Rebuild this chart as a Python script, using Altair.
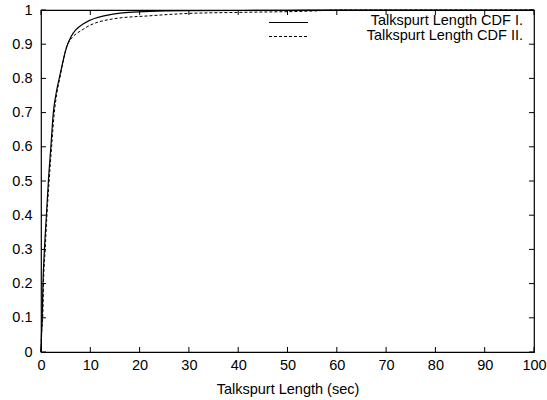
import altair as alt
import pandas as pd

# CDF of talkspurt length, two measurement sets
len_cdf1 = [0, 0.1, 0.25, 0.4, 0.7, 1.1, 1.5, 2.0, 2.5, 3.05, 3.7, 5.4, 8.6, 14.6, 22, 30, 50, 60, 100]
cdf1     = [0, 0.05, 0.1, 0.2, 0.3, 0.4, 0.5, 0.6, 0.7, 0.755, 0.8, 0.9, 0.96, 0.988, 0.996, 0.998, 0.999, 1.0, 1.0]

len_cdf2 = [0, 0.1, 0.35, 0.5, 0.85, 1.2, 1.65, 2.15, 2.7, 3.2, 3.8, 5.4, 8.6, 14.6, 22, 30, 40, 55, 60, 100]
cdf2     = [0, 0.05, 0.1, 0.2, 0.3, 0.4, 0.5, 0.6, 0.7, 0.755, 0.8, 0.9, 0.944, 0.974, 0.983, 0.99, 0.993, 0.997, 1.0, 1.0]

series_names = ["Talkspurt Length CDF I.", "Talkspurt Length CDF II."]

x_ticks = [0, 10, 20, 30, 40, 50, 60, 70, 80, 90, 100]
y_ticks = [0, 0.1, 0.2, 0.3, 0.4, 0.5, 0.6, 0.7, 0.8, 0.9, 1.0]

W, H = 493, 342
FONT = "Liberation Sans"
FS = 14.5
KEY_FS = 14.5

df1 = pd.DataFrame({"len": len_cdf1, "cdf": cdf1})
df2 = pd.DataFrame({"len": len_cdf2, "cdf": cdf2})

xs = alt.Scale(domain=[0, 100], nice=False, zero=False)
ys = alt.Scale(domain=[0, 1], nice=False, zero=False)

x_axis = alt.Axis(values=x_ticks, ticks=False, domain=False, grid=False, labelOverlap=False,
                  labelPadding=6, labelFontSize=FS, labelFont=FONT, labelColor="black",
                  labelFlush=False,
                  title="Talkspurt Length (sec)", titleFont=FONT, titleFontSize=FS,
                  titleFontWeight="normal", titleColor="black", titlePadding=11)
y_axis = alt.Axis(values=y_ticks, ticks=False, domain=False, grid=False, format=".1~f",
                  labelOverlap=False, labelFlush=False,
                  labelPadding=9, labelFontSize=FS, labelFont=FONT, labelColor="black",
                  title=None)


def X(field):
    return alt.X(field, scale=xs, axis=x_axis)


def Y(field):
    return alt.Y(field, scale=ys, axis=y_axis)


line1 = alt.Chart(df1).mark_line(color="black", strokeWidth=1.2, interpolate="monotone").encode(
    x=X("len:Q"), y=Y("cdf:Q"),
)
line2 = alt.Chart(df2).mark_line(color="black", strokeWidth=1, strokeDash=[3, 2],
                                 interpolate="monotone").encode(
    x=X("len:Q"), y=Y("cdf:Q"),
)

# inward tick marks on all four sides
xt = pd.DataFrame({"t": x_ticks})
yt = pd.DataFrame({"t": y_ticks})
tick_b = alt.Chart(xt).mark_rule(color="black", strokeWidth=1).encode(
    x=X("t:Q"), y=alt.value(H), y2=alt.value(H - 5))
tick_t = alt.Chart(xt).mark_rule(color="black", strokeWidth=1).encode(
    x=X("t:Q"), y=alt.value(0), y2=alt.value(5))
tick_l = alt.Chart(yt).mark_rule(color="black", strokeWidth=1).encode(
    y=Y("t:Q"), x=alt.value(0), x2=alt.value(5))
tick_r = alt.Chart(yt).mark_rule(color="black", strokeWidth=1).encode(
    y=Y("t:Q"), x=alt.value(W), x2=alt.value(W - 5))

# key in the upper right corner
key1 = pd.DataFrame({"name": [series_names[0]]})
key2 = pd.DataFrame({"name": [series_names[1]]})
key_line1 = alt.Chart(key1).mark_rule(color="black", strokeWidth=1.2).encode(
    x=alt.value(228), x2=alt.value(267), y=alt.value(12.5), detail="name:N")
key_line2 = alt.Chart(key2).mark_rule(color="black", strokeWidth=1, strokeDash=[3, 2]).encode(
    x=alt.value(228), x2=alt.value(267), y=alt.value(26.5), detail="name:N")
key_text1 = alt.Chart(key1).mark_text(align="right", baseline="middle", font=FONT,
                                      fontSize=KEY_FS, color="black").encode(
    x=alt.value(482), y=alt.value(11), text="name:N")
key_text2 = alt.Chart(key2).mark_text(align="right", baseline="middle", font=FONT,
                                      fontSize=KEY_FS, color="black").encode(
    x=alt.value(482), y=alt.value(26), text="name:N")

chart = alt.layer(
    line1, line2, tick_b, tick_t, tick_l, tick_r,
    key_line1, key_line2, key_text1, key_text2,
).properties(
    width=W, height=H,
    autosize=alt.AutoSizeParams(type="none"),
    padding={"left": 41, "top": 10, "right": 13, "bottom": 48},
    background="white",
).configure_view(stroke="black", strokeWidth=1.2)

chart.save("out.html", embed_options={"renderer": "svg", "actions": False})
